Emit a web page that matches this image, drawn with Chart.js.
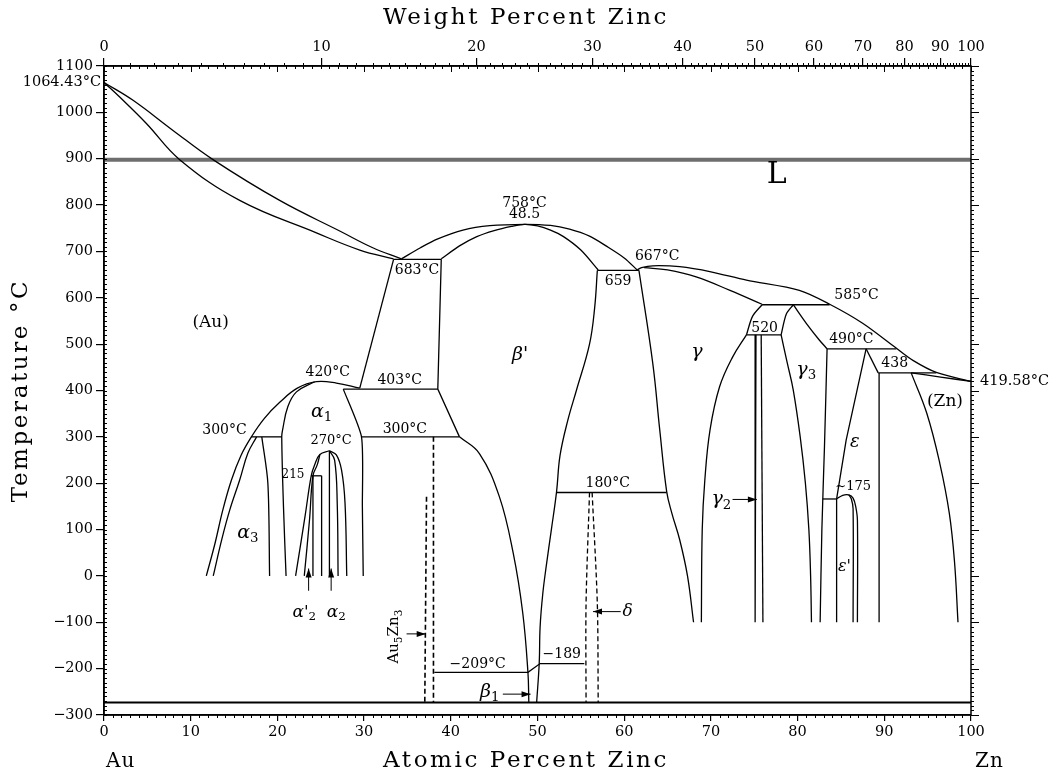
<!DOCTYPE html>
<html>
<head>
<meta charset="utf-8">
<script src="https://cdn.jsdelivr.net/npm/chart.js@4.4.1/dist/chart.umd.min.js"></script>
<style>
  html, body { margin: 0; padding: 0; background: #fff; }
</style>
</head>
<body>
<canvas id="chart" width="1052" height="774"></canvas>
<script>
// axes
const atTicks = [0, 10, 20, 30, 40, 50, 60, 70, 80, 90, 100];
const wtTicks = [0, 10, 20, 30, 40, 50, 60, 70, 80, 90, 100];
const M_AU = 196.97, M_ZN = 65.38;

// phase boundaries, [atomic % Zn, temperature °C]
const auLiquidus = [[0, 1064.43], [3.35, 1026], [7.96, 961], [12.57, 898], [20.26, 810], [27.3, 743], [31, 708], [34.3, 684]];
const auSolidus = [[0, 1064.43], [1.81, 1033], [4.89, 976], [8.73, 898], [15.65, 810], [24.5, 740], [29.5, 703], [33.4, 684]];
const betaLiquidus = [[34.3, 684], [36.5, 708], [38.5, 727], [41.4, 746], [44.5, 755.5], [48.5, 758.5], [51.5, 756], [53.7, 748], [56, 733], [57.9, 712], [60, 686], [61.5, 660]];
const betaSolidus = [[38.9, 684], [41, 712], [43, 732], [45, 745], [47, 754], [48.5, 758.5], [50, 755], [51.5, 746], [53, 732], [55, 703], [57.0, 660]];
const gammaLiquidus = [[61.5, 660], [62.0, 665], [63.3, 669], [66.4, 667], [70, 656], [74.1, 638], [80.2, 616], [83.7, 586], [87.5, 545], [91.4, 491], [93.3, 465], [96.0, 439], [100, 419.58]];
const gammaSolidus = [[62.3, 665], [65, 660], [68.3, 645], [72.2, 616], [75.9, 586]];
const line683 = [[33.4, 683], [38.9, 683]];
const line659 = [[56.9, 659], [61.7, 659]];
const line585 = [[75.9, 585], [83.7, 585]];
const line520 = [[74.1, 520], [78.1, 520]];
const line490 = [[83.4, 490], [91.4, 490]];
const line438 = [[89.3, 438], [96.0, 438]];
const line403 = [[27.6, 403], [38.5, 403]];
const line300a = [[17.0, 300], [20.5, 300]];
const line300b = [[29.7, 300], [41.0, 300]];
const line215 = [[23.9, 216], [25.1, 216]];
const line180 = [[52.2, 180], [64.9, 180]];
const line175 = [[82.9, 166], [84.5, 166]];
const line209 = [[38.1, -208], [48.9, -208], [50.3, -189], [55.4, -189]];
const absZero = [[0, -273.15], [100, -273.15]];
const line900 = [[0, 898], [100, 898]];

const auBetaLeft = [[33.4, 683], [29.5, 405]];
const betaLeftHigh = [[38.9, 683], [38.5, 403], [41.0, 300]];
const betaLeftLow = [[41.0, 300], [43.3, 264], [45.6, 171], [47.2, 49], [48.3, -80], [48.9, -209], [49.0, -273]];
const betaRight = [[56.9, 659], [56.6, 580], [56.0, 500], [54.5, 401], [53.5, 336], [52.6, 260], [52.2, 182], [51.6, 100], [51.0, 20], [50.6, -40], [50.3, -110], [50.2, -188], [49.9, -273]];
const deltaGamma = [[61.7, 659], [63.3, 458], [64.1, 315], [64.9, 182], [65.5, 135], [66.4, 78], [67.3, 0], [68.0, -100]];
const gammaUpper = [[75.9, 585], [74.8, 560], [74.1, 520]];
const gammaLeft = [[74.1, 520], [72.5, 472], [71.0, 408], [69.9, 315], [69.3, 207], [69.0, 100], [68.9, -100]];
const gamma2Left = [[75.2, 520], [75.1, -100]];
const gamma2Right = [[75.8, 520], [76.0, -100]];
const gamma3Top = [[79.5, 585], [78.7, 565], [78.1, 520]];
const gamma3Left = [[78.1, 520], [78.8, 460], [79.5, 401], [80.3, 300], [80.9, 200], [81.3, 100], [81.5, 0], [81.6, -100]];
const gamma3Right = [[79.5, 585], [81.0, 545], [82.5, 509], [83.4, 490]];
const gamma3Wall = [[83.4, 490], [83.1, 279], [82.8, 100], [82.6, -100]];
const epsLeft = [[87.9, 490], [85.6, 293], [84.5, 166]];
const epsRight = [[87.9, 490], [89.3, 438]];
const epsWall = [[89.4, 438], [89.4, -100]];
const eps2Outer = [[84.5, 166], [85.2, 174], [85.9, 175], [86.4, 168], [86.7, 150], [86.9, 120], [86.9, -100]];
const eps2Inner = [[85.9, 175], [86.2, 166], [86.4, 145], [86.4, -100]];
const eps2Left = [[84.5, 166], [84.5, -100]];
const znSolidus = [[93.1, 438], [96.5, 429], [100, 419.58]];
const znSolvus = [[93.1, 438], [94.9, 351], [96.4, 243], [97.5, 135], [98.1, 30], [98.5, -100]];

const auSolvus = [[11.8, 0], [12.8, 70], [13.7, 142], [14.7, 207], [15.8, 260], [17.0, 300], [18.5, 340], [20.3, 375], [22.3, 405], [24.5, 419], [26.8, 416], [29.5, 405]];
const alpha3Left = [[17.6, 300], [16.6, 265], [15.65, 207], [14.5, 142], [13.6, 80], [12.6, 0]];
const alpha3Right = [[18.2, 300], [18.9, 200], [19.1, 0]];
const alpha1Left = [[24.3, 419], [22.2, 397], [21.2, 365], [20.6, 315], [20.5, 300], [20.7, 150], [21.0, 0]];
const alpha1Right = [[27.6, 403], [29.7, 300], [29.8, 150], [29.9, 0]];
const alpha2OuterL = [[26.0, 270], [24.9, 262], [24.3, 240], [23.9, 216], [23.2, 130], [22.1, 0]];
const alpha2InnerL = [[24.9, 262], [24.6, 240], [24.1, 216], [23.7, 120], [23.1, 0]];
const alpha2Mid = [[24.1, 216], [24.1, 0]];
const alpha2Wall = [[25.1, 216], [25.1, 0]];
const alpha2Center = [[26.0, 270], [26.0, 0]];
const alpha2InnerR = [[26.0, 270], [26.6, 250], [26.9, 157], [27.0, 0]];
const alpha2OuterR = [[26.0, 270], [26.8, 261], [27.4, 228], [27.8, 157], [28.0, 0]];

const au5zn3A = [[37.2, 171], [37.0, -273]];
const au5zn3B = [[38.0, 300], [38.0, -273]];
const deltaA = [[56.0, 180], [55.6, -60], [55.6, -273]];
const deltaB = [[56.3, 180], [56.9, -60], [57.0, -273]];

// [points, tension, width, dash, colour]
const curves = [
  [auLiquidus, 0.4], [auSolidus, 0.4], [betaLiquidus, 0.3], [betaSolidus, 0.3],
  [gammaLiquidus, 0.3], [gammaSolidus, 0.4],
  [line683, 0], [line659, 0], [line585, 0], [line520, 0], [line490, 0], [line438, 0],
  [line403, 0], [line300a, 0], [line300b, 0], [line215, 0], [line180, 0], [line175, 0], [line209, 0],
  [absZero, 0, 2], [line900, 0, 4, [], '#6e6e6e'],
  [auBetaLeft, 0], [betaLeftHigh, 0], [betaLeftLow, 0.4], [betaRight, 0.4], [deltaGamma, 0.4],
  [gammaUpper, 0.3], [gammaLeft, 0.4], [gamma2Left, 0], [gamma2Right, 0],
  [gamma3Top, 0.3], [gamma3Left, 0.4], [gamma3Right, 0.3], [gamma3Wall, 0.3],
  [epsLeft, 0], [epsRight, 0], [epsWall, 0], [eps2Outer, 0.35], [eps2Inner, 0.35], [eps2Left, 0],
  [znSolidus, 0.3], [znSolvus, 0.4],
  [auSolvus, 0.4], [alpha3Left, 0.4], [alpha3Right, 0.3], [alpha1Left, 0.4], [alpha1Right, 0.2],
  [alpha2OuterL, 0.4], [alpha2InnerL, 0.4], [alpha2Mid, 0], [alpha2Wall, 0], [alpha2Center, 0],
  [alpha2InnerR, 0.4], [alpha2OuterR, 0.4],
  [au5zn3A, 0, 1.6, [5, 3]], [au5zn3B, 0, 1.6, [5, 3]], [deltaA, 0.3, 1.3, [5, 3]], [deltaB, 0.3, 1.3, [5, 3]]
];

// text in the diagram: parts are [text, isSub]
const notes = [
  { p: [['1064.43°C']], x: 0, y: 1064, dx: -3, align: 'right', size: 14.5 },
  { p: [['419.58°C']], x: 100, y: 420, dx: 9, align: 'left', size: 14.5 },
  { p: [['758°C']], x: 48.5, y: 803, size: 14 },
  { p: [['48.5']], x: 48.5, y: 779, size: 14 },
  { p: [['683°C']], x: 36.1, y: 659, size: 14 },
  { p: [['667°C']], x: 63.8, y: 690, size: 14 },
  { p: [['659']], x: 59.3, y: 636, size: 14 },
  { p: [['585°C']], x: 86.8, y: 605, size: 14 },
  { p: [['520']], x: 76.2, y: 534, size: 14 },
  { p: [['490°C']], x: 86.2, y: 510, size: 14 },
  { p: [['438']], x: 91.2, y: 458, size: 14 },
  { p: [['~175']], x: 86.4, y: 192, size: 13 },
  { p: [['420°C']], x: 25.8, y: 440, size: 14 },
  { p: [['403°C']], x: 34.1, y: 421, size: 14 },
  { p: [['300°C']], x: 13.9, y: 315, size: 14 },
  { p: [['300°C']], x: 34.7, y: 317, size: 14 },
  { p: [['270°C']], x: 26.2, y: 292, size: 13 },
  { p: [['215']], x: 21.8, y: 218, size: 12 },
  { p: [['180°C']], x: 58.1, y: 200, size: 14 },
  { p: [['−209°C']], x: 43.1, y: -190, size: 14 },
  { p: [['−189']], x: 52.8, y: -169, size: 14 },
  { p: [['L']], x: 77.6, y: 864, size: 30 },
  { p: [['(Au)']], x: 12.3, y: 547, size: 17 },
  { p: [['(Zn)']], x: 97.0, y: 376, size: 17 },
  { p: [["β'"]], x: 48.0, y: 476, size: 19, it: true },
  { p: [['γ']], x: 68.4, y: 483, size: 19, it: true },
  { p: [['γ'], ['3', 1]], x: 81.0, y: 444, size: 19, it: true },
  { p: [['ε']], x: 86.6, y: 289, size: 18, it: true },
  { p: [["ε'"]], x: 85.4, y: 20, size: 16, it: true },
  { p: [['α'], ['1', 1]], x: 25.1, y: 354, size: 19, it: true },
  { p: [['α'], ['3', 1]], x: 16.6, y: 92, size: 19, it: true },
  { p: [["α'"], ['2', 1]], x: 23.1, y: -78, size: 17, it: true },
  { p: [['α'], ['2', 1]], x: 26.8, y: -78, size: 17, it: true },
  { p: [['γ'], ['2', 1]], x: 71.2, y: 165, size: 19, it: true },
  { p: [['β'], ['1', 1]], x: 44.5, y: -250, size: 19, it: true },
  { p: [['δ']], x: 60.4, y: -77, size: 17, it: true },
  { p: [['Au'], ['5', 1], ['Zn'], ['3', 1]], x: 33.5, y: -131, size: 15, rot: -Math.PI / 2 }
];

// arrows: from -> to (head at "to")
const arrows = [
  [[23.6, -32], [23.6, 16]],
  [[26.2, -32], [26.2, 16]],
  [[34.9, -125], [37.1, -125]],
  [[59.6, -77], [56.4, -77]],
  [[72.5, 165], [75.3, 165]],
  [[46.0, -255], [49.2, -255]]
];

const SERIF = '"DejaVu Serif", serif';

function wtToAt(w) {
  if (w >= 100) return 100;
  const a = w / M_ZN, b = (100 - w) / M_AU;
  return 100 * a / (a + b);
}

function drawParts(ctx, n, px, py) {
  const size = n.size;
  const fontOf = (sub) => sub ? `${size * 0.7}px ${SERIF}` : `${n.it ? 'italic ' : ''}${size}px ${SERIF}`;
  ctx.save();
  ctx.translate(px + (n.dx || 0), py);
  if (n.rot) ctx.rotate(n.rot);
  let w = 0;
  n.p.forEach(([s, sub]) => { ctx.font = fontOf(sub); w += ctx.measureText(s).width; });
  let x0 = n.align === 'left' ? 0 : n.align === 'right' ? -w : -w / 2;
  ctx.fillStyle = '#000';
  ctx.textAlign = 'left';
  ctx.textBaseline = 'middle';
  n.p.forEach(([s, sub]) => {
    ctx.font = fontOf(sub);
    ctx.fillText(s, x0, sub ? size * 0.3 : 0);
    x0 += ctx.measureText(s).width;
  });
  ctx.restore();
}

const decor = {
  id: 'decor',
  afterDraw(chart) {
    const { ctx, chartArea: a, scales } = chart;
    const x = scales.x, y = scales.y;
    ctx.save();
    ctx.strokeStyle = '#000';
    ctx.lineWidth = 1;
    ctx.beginPath();
    // temperature minor ticks: inside on the left, outside on the right
    for (let t = -300; t <= 1100; t += 10) {
      const py = Math.round(y.getPixelForValue(t)) + 0.5;
      const major = t % 100 === 0;
      ctx.moveTo(a.left, py); ctx.lineTo(a.left + 3, py);
      ctx.moveTo(a.right, py); ctx.lineTo(a.right + (major ? 8 : 3), py);
    }
    // atomic % ticks: bottom outside, top inside
    for (let c = 0; c <= 100; c += 1) {
      const px = Math.round(x.getPixelForValue(c)) + 0.5;
      const major = c % 10 === 0;
      if (!major) { ctx.moveTo(px, a.bottom); ctx.lineTo(px, a.bottom + 3); }
      ctx.moveTo(px, a.top); ctx.lineTo(px, a.top + (major ? 6 : 3));
    }
    // weight % minor ticks on top, outside
    for (let w = 1; w < 100; w += 1) {
      if (w % 10 === 0) continue;
      const px = Math.round(x.getPixelForValue(wtToAt(w))) + 0.5;
      ctx.moveTo(px, a.top); ctx.lineTo(px, a.top - 3);
    }
    ctx.stroke();
    ctx.lineWidth = 1.5;
    ctx.strokeRect(a.left, a.top, a.right - a.left, a.bottom - a.top);

    // arrows
    ctx.fillStyle = '#000';
    ctx.lineWidth = 1;
    arrows.forEach(([p0, p1]) => {
      const x0 = x.getPixelForValue(p0[0]), y0 = y.getPixelForValue(p0[1]);
      const x1 = x.getPixelForValue(p1[0]), y1 = y.getPixelForValue(p1[1]);
      const ang = Math.atan2(y1 - y0, x1 - x0);
      ctx.beginPath(); ctx.moveTo(x0, y0); ctx.lineTo(x1, y1); ctx.stroke();
      ctx.beginPath();
      ctx.moveTo(x1, y1);
      ctx.lineTo(x1 - 9 * Math.cos(ang) + 3 * Math.sin(ang), y1 - 9 * Math.sin(ang) - 3 * Math.cos(ang));
      ctx.lineTo(x1 - 9 * Math.cos(ang) - 3 * Math.sin(ang), y1 - 9 * Math.sin(ang) + 3 * Math.cos(ang));
      ctx.closePath(); ctx.fill();
    });

    notes.forEach(n => drawParts(ctx, n, x.getPixelForValue(n.x), y.getPixelForValue(n.y)));

    // axis titles and end labels
    ctx.fillStyle = '#000';
    ctx.textAlign = 'center';
    ctx.textBaseline = 'middle';
    ctx.font = `23px ${SERIF}`;
    ctx.letterSpacing = '2.6px';
    ctx.fillText('Weight Percent Zinc', chart.width / 2, 18);
    ctx.fillText('Atomic Percent Zinc', chart.width / 2, 761);
    ctx.save();
    ctx.translate(21, (a.top + a.bottom) / 2);
    ctx.rotate(-Math.PI / 2);
    ctx.fillText('Temperature °C', 0, 0);
    ctx.restore();
    ctx.textAlign = 'left';
    ctx.font = `20px ${SERIF}`;
    ctx.letterSpacing = '1px';
    ctx.fillText('Au', x.getPixelForValue(0) + 2, 762);
    ctx.fillText('Zn', x.getPixelForValue(100) + 4, 762);
    ctx.restore();
  }
};

const tickFont = { family: SERIF, size: 14.5 };

new Chart(document.getElementById('chart'), {
  type: 'scatter',
  data: {
    datasets: curves.map(([pts, tension, width, dash, colour]) => ({
      data: pts.map(([cx, ct]) => ({ x: cx, y: ct })),
      showLine: true,
      tension: tension,
      borderColor: colour || '#000',
      borderWidth: width || 1.3,
      borderDash: dash || [],
      pointRadius: 0,
      fill: false
    }))
  },
  options: {
    responsive: false,
    animation: false,
    devicePixelRatio: 1,
    layout: { padding: { left: 0, right: 81, top: 0, bottom: 0 } },
    plugins: { legend: { display: false }, tooltip: { enabled: false } },
    scales: {
      x: {
        type: 'linear', position: 'bottom', min: 0, max: 100,
        afterBuildTicks: (s) => { s.ticks = atTicks.map(v => ({ value: v })); },
        ticks: { font: tickFont, color: '#000', padding: 3, maxRotation: 0, autoSkip: false },
        grid: { drawOnChartArea: false, tickLength: 6, color: '#000', lineWidth: 1.2 },
        border: { color: '#000', width: 1.5 },
        afterFit: (s) => { s.height = 59; }
      },
      xTop: {
        type: 'linear', position: 'top', min: 0, max: 100,
        afterBuildTicks: (s) => { s.ticks = wtTicks.map(w => ({ value: wtToAt(w) })); },
        ticks: { font: tickFont, color: '#000', padding: 2, maxRotation: 0, autoSkip: false,
          callback: (v, i) => String(wtTicks[i]) },
        grid: { drawOnChartArea: false, tickLength: 8, color: '#000', lineWidth: 1.2 },
        border: { color: '#000', width: 1.5 },
        afterFit: (s) => { s.height = 66; }
      },
      y: {
        type: 'linear', position: 'left', min: -300, max: 1100,
        ticks: { stepSize: 100, font: tickFont, color: '#000', padding: 3,
          callback: (v) => v < 0 ? '−' + Math.abs(v) : String(v) },
        grid: { drawOnChartArea: false, tickLength: 8, color: '#000', lineWidth: 1.2 },
        border: { color: '#000', width: 1.5 },
        afterFit: (s) => { s.width = 104; }
      }
    }
  },
  plugins: [decor]
});
</script>
</body>
</html>
